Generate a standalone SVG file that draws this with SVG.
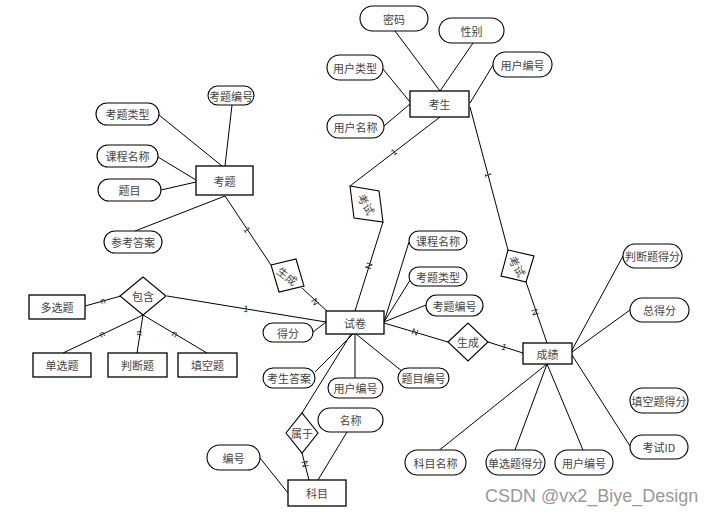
<svg xmlns="http://www.w3.org/2000/svg" width="717" height="515" viewBox="0 0 717 515">
<style>
.e{fill:#fff;stroke:#000;stroke-width:1.3}
.a{fill:#fff;stroke:#000;stroke-width:1.1}
.r{fill:#fff;stroke:#000;stroke-width:1.1}
.c line{stroke:#000;stroke-width:1}
text{font-family:"Noto Sans CJK SC","Liberation Sans",sans-serif;font-size:11px;fill:#444;text-anchor:middle;dominant-baseline:central}
.l{font-family:"Liberation Sans",sans-serif;font-size:9px;fill:#222}
.wm{font-family:"Liberation Sans",sans-serif;font-size:18px;fill:#999;text-anchor:start;dominant-baseline:auto}
</style>
<rect width="717" height="515" fill="#fff"/>
<g id="connectors" class="c">
<line x1="395" y1="31" x2="440" y2="91"/>
<line x1="473" y1="43" x2="440" y2="91"/>
<line x1="383" y1="69" x2="410" y2="102"/>
<line x1="384" y1="126" x2="410" y2="104"/>
<line x1="493" y1="65" x2="470" y2="103"/>
<line x1="440" y1="117" x2="350" y2="186"/>
<line x1="470" y1="107" x2="508" y2="250"/>
<line x1="232" y1="105" x2="225" y2="166"/>
<line x1="159" y1="115" x2="222" y2="166"/>
<line x1="158" y1="157" x2="196" y2="180"/>
<line x1="161" y1="190" x2="196" y2="182"/>
<line x1="135" y1="231" x2="225" y2="196"/>
<line x1="225" y1="196" x2="271" y2="265"/>
<line x1="302" y1="288" x2="329" y2="313"/>
<line x1="383" y1="222" x2="355" y2="311"/>
<line x1="384" y1="322" x2="409" y2="242"/>
<line x1="384" y1="322" x2="412" y2="277"/>
<line x1="384" y1="322" x2="426" y2="305"/>
<line x1="384" y1="323" x2="448" y2="342"/>
<line x1="313" y1="332" x2="326" y2="322"/>
<line x1="315" y1="372" x2="353" y2="334"/>
<line x1="355" y1="334" x2="355" y2="378"/>
<line x1="356" y1="334" x2="403" y2="372"/>
<line x1="351" y1="334" x2="302" y2="413"/>
<line x1="167" y1="296" x2="326" y2="322"/>
<line x1="488" y1="342" x2="523" y2="353"/>
<line x1="526" y1="282" x2="547" y2="343"/>
<line x1="572" y1="350" x2="623" y2="256"/>
<line x1="572" y1="352" x2="630" y2="310"/>
<line x1="572" y1="355" x2="630" y2="446"/>
<line x1="547" y1="364" x2="437" y2="452"/>
<line x1="547" y1="364" x2="515" y2="450"/>
<line x1="547" y1="364" x2="583" y2="450"/>
<line x1="302" y1="453" x2="309" y2="480"/>
<line x1="347" y1="432" x2="318" y2="480"/>
<line x1="260" y1="458" x2="288" y2="493"/>
<line x1="85" y1="306" x2="121" y2="296"/>
<line x1="143" y1="315" x2="63" y2="353"/>
<line x1="143" y1="315" x2="137" y2="353"/>
<line x1="143" y1="315" x2="207" y2="353"/>
</g>
<g id="cardinality">
<text class="l" transform="translate(247,230) rotate(56)">1</text>
<text class="l" transform="translate(315,302) rotate(58)">N</text>
<text class="l" transform="translate(394,152) rotate(-37)">1</text>
<text class="l" transform="translate(369,266) rotate(-72)">N</text>
<text class="l" transform="translate(488,175) rotate(75)">1</text>
<text class="l" transform="translate(535,312) rotate(71)">N</text>
<text class="l" transform="translate(415,332) rotate(16)">N</text>
<text class="l" transform="translate(504,347) rotate(17)">1</text>
<text class="l" transform="translate(305,464) rotate(75)">N</text>
<text class="l" transform="translate(246,309) rotate(9)">1</text>
<text class="l" transform="translate(103,301) rotate(-15)">n</text>
<text class="l" transform="translate(102,334) rotate(-25)">n</text>
<text class="l" transform="translate(139,333) rotate(-81)">n</text>
<text class="l" transform="translate(175,334) rotate(31)">n</text>
</g>
<g id="n-kaosheng"><rect class="e" x="410" y="91" width="59" height="26"/><text x="439.5" y="104">考生</text></g>
<g id="n-kaoti"><rect class="e" x="196" y="166" width="57" height="29"/><text x="224.5" y="180.5">考题</text></g>
<g id="n-shijuan"><rect class="e" x="326" y="311" width="58" height="23"/><text x="355" y="322.5">试卷</text></g>
<g id="n-chengji"><rect class="e" x="523" y="343" width="49" height="21"/><text x="547.5" y="353.5">成绩</text></g>
<g id="n-kemu"><rect class="e" x="288" y="480" width="58" height="26"/><text x="317" y="493">科目</text></g>
<g id="n-duoxuan"><rect class="e" x="29" y="295" width="56" height="24"/><text x="57" y="307">多选题</text></g>
<g id="n-danxuan"><rect class="e" x="33" y="353" width="58" height="24"/><text x="62" y="365">单选题</text></g>
<g id="n-panduan"><rect class="e" x="108" y="353" width="59" height="24"/><text x="137.5" y="365">判断题</text></g>
<g id="n-tiankong"><rect class="e" x="178" y="353" width="59" height="24"/><text x="207.5" y="365">填空题</text></g>

<g id="a-mima"><rect class="a" x="360" y="6" width="68" height="25" rx="12.5"/><text x="394" y="18.5">密码</text></g>
<g id="a-xingbie"><rect class="a" x="439" y="18" width="65" height="25" rx="12.5"/><text x="471.5" y="30.5">性别</text></g>
<g id="a-yhlx"><rect class="a" x="327" y="55" width="56" height="25" rx="12.5"/><text x="355" y="67.5">用户类型</text></g>
<g id="a-yhmc"><rect class="a" x="327" y="115" width="57" height="23" rx="11.5"/><text x="355.5" y="126.5">用户名称</text></g>
<g id="a-yhbh1"><rect class="a" x="493" y="52" width="59" height="25" rx="12.5"/><text x="522.5" y="64.5">用户编号</text></g>
<g id="a-ktbh1"><rect class="a" x="208" y="86" width="46" height="19" rx="9.5"/><text x="231" y="95.5">考题编号</text></g>
<g id="a-ktlx1"><rect class="a" x="96" y="103" width="63" height="22" rx="11"/><text x="127.5" y="114">考题类型</text></g>
<g id="a-kcmc1"><rect class="a" x="97" y="145" width="61" height="22" rx="11"/><text x="127.5" y="156">课程名称</text></g>
<g id="a-timu"><rect class="a" x="98" y="179" width="63" height="22" rx="11"/><text x="129.5" y="190">题目</text></g>
<g id="a-ckda"><rect class="a" x="104" y="231" width="58" height="22" rx="11"/><text x="133" y="242">参考答案</text></g>
<g id="a-kcmc2"><rect class="a" x="409" y="231" width="58" height="19" rx="9.5"/><text x="438" y="240.5">课程名称</text></g>
<g id="a-ktlx2"><rect class="a" x="409" y="267" width="58" height="19" rx="9.5"/><text x="438" y="276.5">考题类型</text></g>
<g id="a-ktbh2"><rect class="a" x="426" y="295" width="57" height="21" rx="10.5"/><text x="454.5" y="305.5">考题编号</text></g>
<g id="a-defen"><rect class="a" x="263" y="323" width="50" height="19" rx="9.5"/><text x="288" y="332.5">得分</text></g>
<g id="a-ksda"><rect class="a" x="263" y="368" width="52" height="20" rx="10"/><text x="289" y="378">考生答案</text></g>
<g id="a-yhbh2"><rect class="a" x="328" y="378" width="55" height="20" rx="10"/><text x="355.5" y="388">用户编号</text></g>
<g id="a-tmbh"><rect class="a" x="398" y="368" width="51" height="20" rx="10"/><text x="423.5" y="378">题目编号</text></g>
<g id="a-mingcheng"><rect class="a" x="318" y="408" width="65" height="24" rx="12"/><text x="350.5" y="420">名称</text></g>
<g id="a-bianhao"><rect class="a" x="207" y="445" width="53" height="25" rx="12.5"/><text x="233.5" y="457.5">编号</text></g>
<g id="a-pdtdf"><rect class="a" x="623" y="244" width="59" height="24" rx="12"/><text x="652.5" y="256">判断题得分</text></g>
<g id="a-zdf"><rect class="a" x="630" y="298" width="59" height="24" rx="12"/><text x="659.5" y="310">总得分</text></g>
<g id="a-tktdf"><rect class="a" x="630" y="388" width="58" height="25" rx="12.5"/><text x="659" y="400.5">填空题得分</text></g>
<g id="a-ksid"><rect class="a" x="630" y="435" width="58" height="24" rx="12"/><text x="659" y="447">考试ID</text></g>
<g id="a-kmmc"><rect class="a" x="405" y="450" width="61" height="25" rx="12.5"/><text x="435.5" y="462.5">科目名称</text></g>
<g id="a-dxtdf"><rect class="a" x="486" y="450" width="59" height="25" rx="12.5"/><text x="515.5" y="462.5">单选题得分</text></g>
<g id="a-yhbh3"><rect class="a" x="555" y="450" width="58" height="25" rx="12.5"/><text x="584" y="462.5">用户编号</text></g>

<g id="r-baohan"><polygon class="r" points="120,296 143,277 166,296 143,315"/><text x="143" y="296">包含</text></g>
<g id="r-shengcheng2"><polygon class="r" points="448,342 468,323 488,342 468,361"/><text x="468" y="342">生成</text></g>
<g id="r-shuyu"><polygon class="r" points="286,433 302,413 318,433 302,453"/><text x="302" y="433">属于</text></g>
<g id="r-shengcheng1"><polygon class="r" points="271,265 296,259 304,286 279,292"/><text transform="translate(287.5,275.5) rotate(38)">生成</text></g>
<g id="r-kaoshi1"><polygon class="r" points="350,186 379,191 383,222 354,218"/><text transform="translate(366.5,204) rotate(60)">考试</text></g>
<g id="r-kaoshi2"><polygon class="r" points="508,250 534,256 526,282 501,276"/><text transform="translate(517.5,266) rotate(60)">考试</text></g>
<text class="wm" x="485" y="502">CSDN @vx2_Biye_Design</text>
</svg>
